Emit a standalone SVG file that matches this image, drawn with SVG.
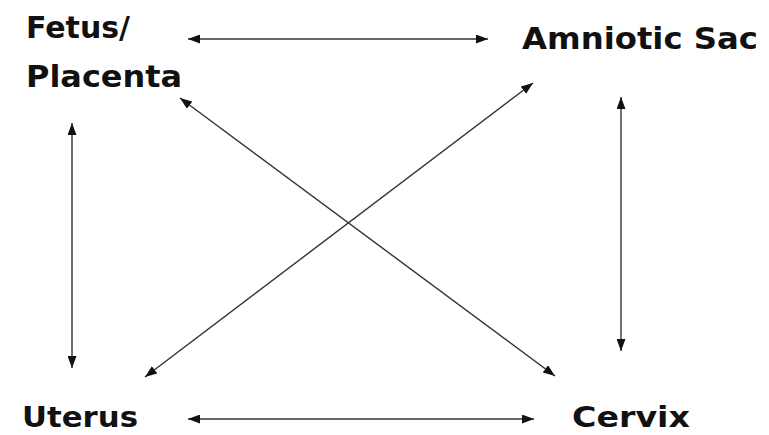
<svg xmlns="http://www.w3.org/2000/svg" width="769" height="435" viewBox="0 0 769 435">
<style>
.lbl{font-family:"DejaVu Sans",sans-serif;font-weight:bold;font-size:31px;fill:#111}
.b{font-size:29px}
.c{stroke:#333;stroke-width:1.4;fill:none;marker-start:url(#a);marker-end:url(#a)}
</style>
<defs>
<marker id="a" viewBox="0 0 12 9" refX="12" refY="4.5" markerWidth="12" markerHeight="9" markerUnits="userSpaceOnUse" orient="auto-start-reverse">
<path d="M0,0 L12,4.5 L0,9 Z" fill="#111"/>
</marker>
</defs>
<rect width="769" height="435" fill="#fff"/>
<g id="fetus"><text class="lbl" x="26" y="38" textLength="104" lengthAdjust="spacingAndGlyphs">Fetus/</text><text class="lbl" x="26" y="87" textLength="156" lengthAdjust="spacingAndGlyphs">Placenta</text></g>
<g id="amniotic"><text class="lbl" x="522" y="49" textLength="236" lengthAdjust="spacingAndGlyphs">Amniotic Sac</text></g>
<g id="uterus"><text class="lbl b" x="22" y="427" textLength="116" lengthAdjust="spacingAndGlyphs">Uterus</text></g>
<g id="cervix"><text class="lbl b" x="572" y="427" textLength="118" lengthAdjust="spacingAndGlyphs">Cervix</text></g>
<g id="connectors">
<line class="c" x1="188" y1="39" x2="488" y2="39"/>
<line class="c" x1="72" y1="123" x2="72" y2="368"/>
<line class="c" x1="621" y1="97" x2="621" y2="351"/>
<line class="c" x1="188" y1="419" x2="534" y2="419"/>
<line class="c" x1="180" y1="98" x2="555" y2="376"/>
<line class="c" x1="533" y1="83" x2="145" y2="377"/>
</g>
</svg>
